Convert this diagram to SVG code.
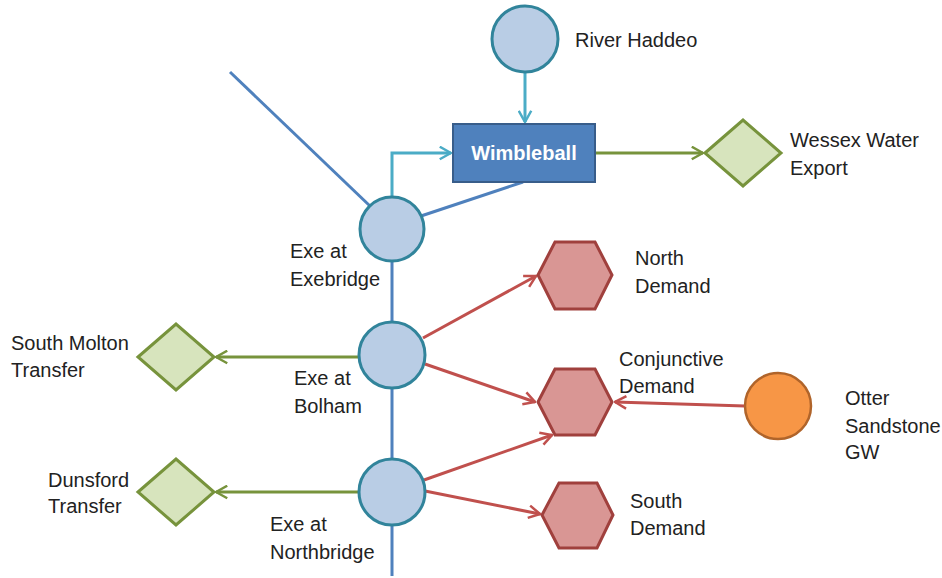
<svg xmlns="http://www.w3.org/2000/svg" width="942" height="578" viewBox="0 0 942 578">
<defs>
<style>
text{font-family:"Liberation Sans",Arial,sans-serif;font-size:20px;fill:#222}
.node{fill:#b9cde5;stroke:#31849b;stroke-width:3}
.dia{fill:#d7e4bd;stroke:#77933c;stroke-width:3}
.hex{fill:#d99694;stroke:#a0403d;stroke-width:3}
.gw{fill:#f79646;stroke:#b0642a;stroke-width:2.5}
.blue{stroke:#4f81bd;stroke-width:3;fill:none}
.teal{stroke:#4bacc6;stroke-width:3;fill:none;marker-end:url(#mt)}
.green{stroke:#77933c;stroke-width:3;fill:none;marker-end:url(#mg)}
.red{stroke:#c0504d;stroke-width:3;fill:none;marker-end:url(#mr)}
</style>
<marker id="mt" viewBox="0 0 12 12" refX="11" refY="6" markerWidth="5" markerHeight="5" orient="auto" markerUnits="strokeWidth"><path d="M2,1 L11,6 L2,11" fill="none" stroke="#4bacc6" stroke-width="2"/></marker>
<marker id="mg" viewBox="0 0 12 12" refX="11" refY="6" markerWidth="5" markerHeight="5" orient="auto" markerUnits="strokeWidth"><path d="M2,1 L11,6 L2,11" fill="none" stroke="#77933c" stroke-width="2"/></marker>
<marker id="mr" viewBox="0 0 12 12" refX="11" refY="6" markerWidth="5" markerHeight="5" orient="auto" markerUnits="strokeWidth"><path d="M2,1 L11,6 L2,11" fill="none" stroke="#c0504d" stroke-width="2"/></marker>
</defs>
<rect width="942" height="578" fill="#fff"/>
<g id="connectors">
<line class="blue" x1="230" y1="72" x2="370" y2="206"/>
<line class="blue" x1="392" y1="262" x2="392" y2="576"/>
<line class="blue" x1="421" y1="216" x2="523" y2="182"/>
<line class="teal" x1="525" y1="72" x2="525" y2="122"/>
<polyline class="teal" points="392,197 392,153 451,153"/>
<line class="green" x1="595" y1="153" x2="703" y2="153"/>
<line class="green" x1="359" y1="357" x2="216" y2="357"/>
<line class="green" x1="359" y1="492" x2="216" y2="492"/>
<line class="red" x1="423" y1="338" x2="536" y2="276"/>
<line class="red" x1="425" y1="364" x2="535" y2="402"/>
<line class="red" x1="424" y1="480" x2="552" y2="435"/>
<line class="red" x1="425" y1="491" x2="540" y2="514"/>
<line class="red" x1="745" y1="406" x2="615" y2="402"/>
</g>
<g id="river-haddeo"><circle class="node" cx="525" cy="39" r="33"/><text x="575" y="47">River Haddeo</text></g>
<g id="wimbleball"><rect x="453" y="124" width="142" height="58" fill="#4f81bd" stroke="#385d8a" stroke-width="2"/><text x="524" y="160" text-anchor="middle" style="fill:#fff;font-weight:bold;font-size:20px">Wimbleball</text></g>
<g id="wessex"><polygon class="dia" points="705,153 743,120 781,153 743,186"/><text x="790" y="147">Wessex Water</text><text x="790" y="175">Export</text></g>
<g id="exebridge"><circle class="node" cx="392" cy="229" r="32"/><text x="290" y="258">Exe at</text><text x="290" y="286">Exebridge</text></g>
<g id="bolham"><circle class="node" cx="392" cy="355" r="33"/><text x="294" y="385">Exe at</text><text x="294" y="413">Bolham</text></g>
<g id="northbridge"><circle class="node" cx="392" cy="492" r="33"/><text x="270" y="531">Exe at</text><text x="270" y="559">Northbridge</text></g>
<g id="south-molton"><polygon class="dia" points="138,357 176,324 214,357 176,390"/><text x="11" y="350">South Molton</text><text x="11" y="377">Transfer</text></g>
<g id="dunsford"><polygon class="dia" points="138,492 176,459 214,492 176,525"/><text x="48" y="487">Dunsford</text><text x="48" y="513">Transfer</text></g>
<g id="north-demand"><polygon class="hex" points="538,275 555,242 595,242 612,275 595,309 555,309"/><text x="635" y="265">North</text><text x="635" y="293">Demand</text></g>
<g id="conjunctive-demand"><polygon class="hex" points="538,402 555,369 595,369 612,402 595,435 555,435"/><text x="619" y="366">Conjunctive</text><text x="619" y="393">Demand</text></g>
<g id="south-demand"><polygon class="hex" points="542,515 559,483 597,483 613,515 597,548 559,548"/><text x="630" y="508">South</text><text x="630" y="535">Demand</text></g>
<g id="otter"><circle class="gw" cx="778" cy="406" r="33"/><text x="845" y="405">Otter</text><text x="845" y="433">Sandstone</text><text x="845" y="459">GW</text></g>
</svg>
